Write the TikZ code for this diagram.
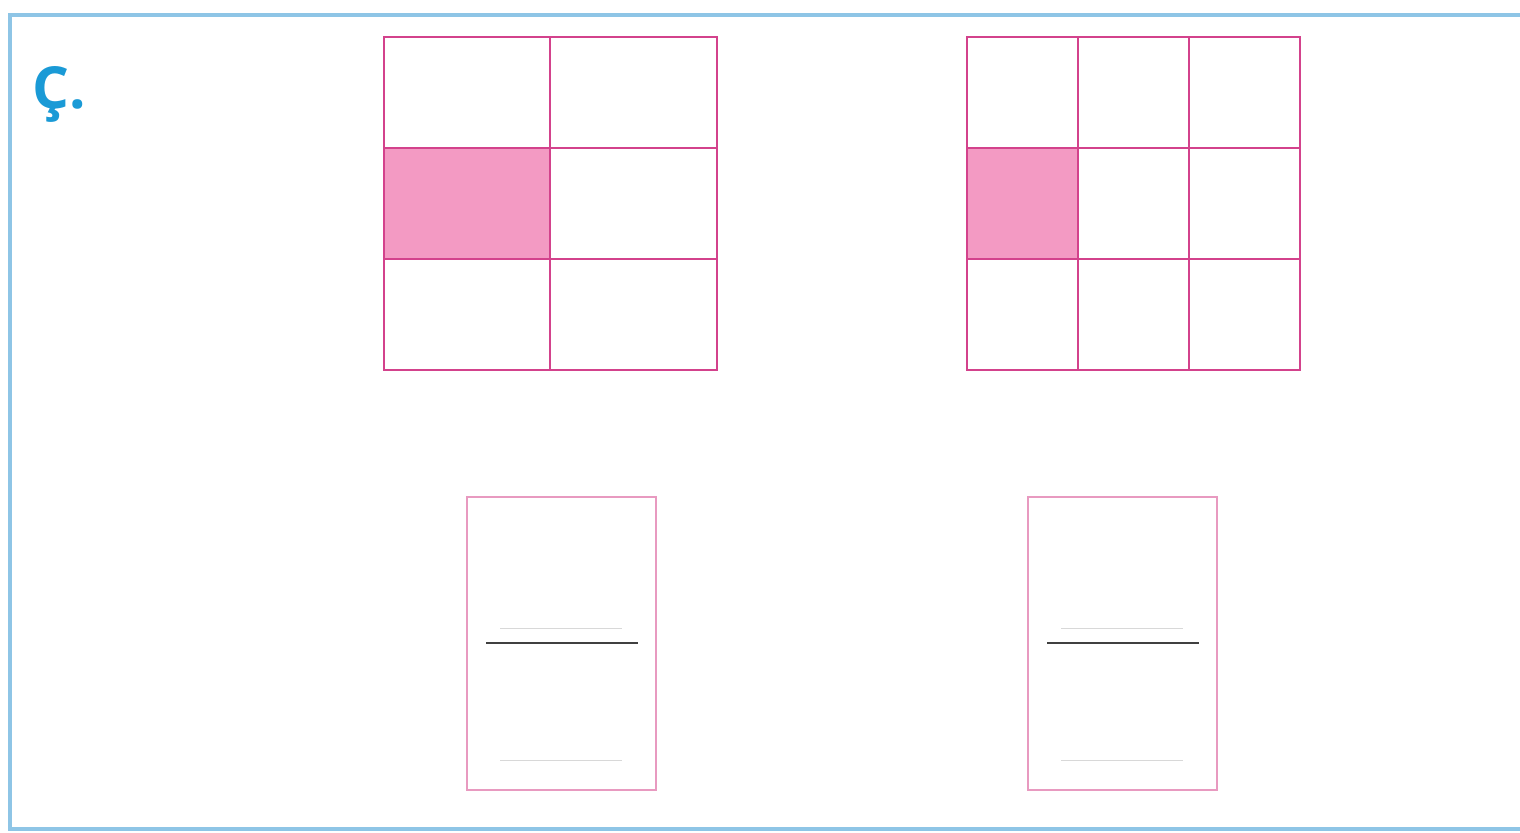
\documentclass[tikz,border=0pt]{standalone}
\usepackage{fontspec}
\newfontfamily\labelfont{Open Sans}
\definecolor{frameblue}{HTML}{8EC5E6}
\definecolor{gridpink}{HTML}{D3428C}
\definecolor{cellpink}{HTML}{F39AC3}
\definecolor{boxpink}{HTML}{E89AC0}
\definecolor{labelblue}{HTML}{1A9AD6}
\definecolor{guide}{HTML}{D8D8D8}
\tikzset{
  gridline/.style={draw=gridpink, line width=1.4pt},
  shaded/.style={fill=cellpink},
  answerbox/.style={draw=boxpink, line width=0.8pt},
  fracline/.style={draw=black!75, line width=0.9pt},
  guideline/.style={draw=guide, line width=0.5pt},
  frame/.style={draw=frameblue, line width=1.6pt}
}
\begin{document}
\begin{tikzpicture}[x=0.5pt, y=-0.5pt]
\useasboundingbox (0,0) rectangle (1520,832);
\fill[white] (0,0) rectangle (1520,832);
% outer frame
\draw[frame] (1530,15) -- (10,15) -- (10,829) -- (1530,829);
% label
\node[anchor=west, text=labelblue, font=\labelfont\bfseries\fontsize{29}{36}\selectfont] (lbl) at (25,94) {Ç.};
% grid 1 (2 x 3)
\fill[shaded] (384,148) rectangle (550,259);
\draw[gridline] (384,37) rectangle (717,370);
\draw[gridline] (550,37) -- (550,370);
\draw[gridline] (384,148) -- (717,148);
\draw[gridline] (384,259) -- (717,259);
% grid 2 (3 x 3)
\fill[shaded] (967,148) rectangle (1078,259);
\draw[gridline] (967,37) rectangle (1300,370);
\draw[gridline] (1078,37) -- (1078,370);
\draw[gridline] (1189,37) -- (1189,370);
\draw[gridline] (967,148) -- (1300,148);
\draw[gridline] (967,259) -- (1300,259);
% answer box 1
\draw[answerbox] (467,497) rectangle (656,790);
\draw[guideline] (500,628) -- (622,628);
\draw[fracline] (486,643) -- (638,643);
\draw[guideline] (500,760) -- (622,760);
% answer box 2
\draw[answerbox] (1028,497) rectangle (1217,790);
\draw[guideline] (1061,628) -- (1183,628);
\draw[fracline] (1047,643) -- (1199,643);
\draw[guideline] (1061,760) -- (1183,760);
\end{tikzpicture}
\end{document}
